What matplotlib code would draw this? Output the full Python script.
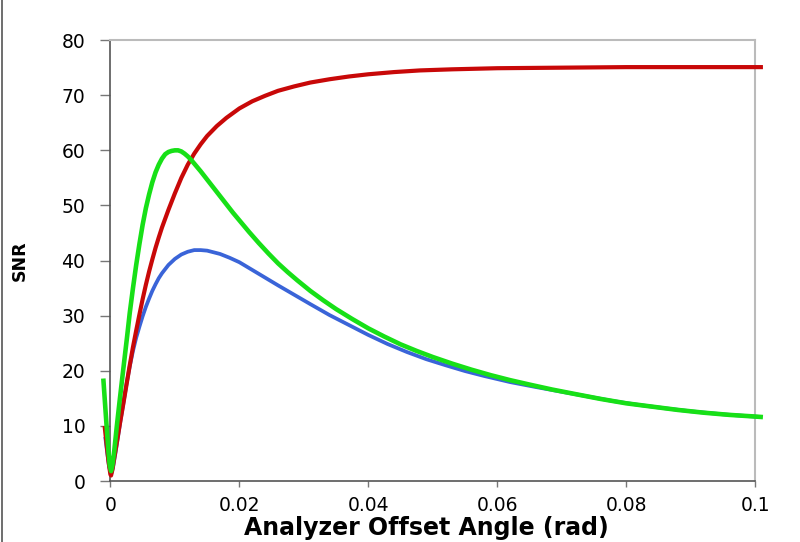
import matplotlib.pyplot as plt
from matplotlib.lines import Line2D

# values
angle_red = [-0.0009, -0.0006, -0.0003, 0.0, 0.0001, 0.0003, 0.0006, 0.0010, 0.0015,
             0.0020, 0.0025, 0.0030, 0.0035, 0.0040, 0.0045, 0.0050, 0.0055, 0.0060,
             0.0065, 0.0070, 0.0075, 0.0080, 0.0090, 0.0100, 0.0110, 0.0120, 0.0130,
             0.0140, 0.0150, 0.0165, 0.0180, 0.0200, 0.0220, 0.0240, 0.0260, 0.0285,
             0.0310, 0.0340, 0.0370, 0.0400, 0.0440, 0.0480, 0.0530, 0.0600, 0.0700,
             0.0800, 0.0900, 0.1012]
snr_red = [10.0, 6.8, 3.6, 1.2, 1.0, 2.0, 4.2, 7.0, 10.6,
           14.0, 17.5, 21.0, 24.3, 27.3, 30.2, 33.0, 35.6, 38.0,
           40.2, 42.3, 44.2, 46.0, 49.2, 52.2, 55.0, 57.4, 59.4,
           61.1, 62.6, 64.4, 65.9, 67.6, 68.9, 69.9, 70.8, 71.6,
           72.3, 72.9, 73.4, 73.8, 74.2, 74.5, 74.7, 74.9, 75.0,
           75.1, 75.1, 75.1]

angle_green = [-0.0011, -0.0008, -0.0005, -0.0003, -0.0001, 0.0001, 0.0003, 0.0006, 0.0010,
               0.0014, 0.0018, 0.0022, 0.0026, 0.0030, 0.0035, 0.0040, 0.0045, 0.0050,
               0.0055, 0.0060, 0.0065, 0.0070, 0.0075, 0.0080, 0.0085, 0.0090, 0.0095,
               0.0100, 0.0105, 0.0110, 0.0115, 0.0120, 0.0125, 0.0130, 0.0140, 0.0150,
               0.0160, 0.0170, 0.0180, 0.0190, 0.0200, 0.0215, 0.0230, 0.0245, 0.0260,
               0.0275, 0.0290, 0.0310, 0.0330, 0.0350, 0.0375, 0.0400, 0.0425, 0.0450,
               0.0475, 0.0500, 0.0530, 0.0560, 0.0590, 0.0620, 0.0650, 0.0685, 0.0720,
               0.0760, 0.0800, 0.0840, 0.0880, 0.0920, 0.0960, 0.1000, 0.1012]
snr_green = [18.6, 13.5, 8.5, 5.3, 2.8, 1.8, 2.8, 5.5, 10.0,
             14.2, 18.3, 22.3, 26.3, 30.5, 35.0, 39.2, 43.0, 46.5,
             49.5, 52.0, 54.2, 56.0, 57.4, 58.5, 59.3, 59.7, 59.9,
             60.0, 60.0, 59.8, 59.4, 58.9, 58.3, 57.6, 56.2, 54.7,
             53.2, 51.7, 50.2, 48.7, 47.3, 45.2, 43.2, 41.3, 39.5,
             37.9, 36.4, 34.5, 32.8, 31.2, 29.4, 27.7, 26.2, 24.8,
             23.6, 22.5, 21.3, 20.2, 19.2, 18.3, 17.5, 16.6, 15.8,
             14.9, 14.1, 13.5, 12.9, 12.4, 12.0, 11.7, 11.6]

angle_blue = [-0.0008, -0.0005, -0.0002, 0.0001, 0.0004, 0.0008, 0.0012, 0.0016, 0.0020,
              0.0025, 0.0030, 0.0035, 0.0040, 0.0045, 0.0050, 0.0055, 0.0060, 0.0065,
              0.0070, 0.0075, 0.0080, 0.0090, 0.0100, 0.0110, 0.0120, 0.0130, 0.0140,
              0.0150, 0.0160, 0.0170, 0.0185, 0.0200, 0.0220, 0.0240, 0.0260, 0.0285,
              0.0310, 0.0340, 0.0370, 0.0400, 0.0430, 0.0460, 0.0490, 0.0520, 0.0550,
              0.0580, 0.0620, 0.0660, 0.0700, 0.0740, 0.0780, 0.0820, 0.0860, 0.0900,
              0.0950, 0.1010]
snr_blue = [8.0, 5.2, 2.6, 1.2, 2.4, 5.2, 8.2, 11.2, 14.0,
            17.6, 20.8, 23.6, 26.0, 28.0, 29.9, 31.6, 33.1, 34.5,
            35.7, 36.8, 37.7, 39.2, 40.3, 41.1, 41.6, 41.9, 41.9,
            41.8, 41.5, 41.2, 40.5, 39.7, 38.3, 36.9, 35.5, 33.8,
            32.1, 30.1, 28.3, 26.5, 24.85, 23.4, 22.1, 21.0, 19.95,
            19.05, 17.95, 17.05, 16.2, 15.35, 14.5, 13.8, 13.2, 12.65,
            12.1, 11.6]

x_ticks = [0, 0.02, 0.04, 0.06, 0.08, 0.1]
x_tick_labels = ["0", "0.02", "0.04", "0.06", "0.08", "0.1"]
y_ticks = [0, 10, 20, 30, 40, 50, 60, 70, 80]

fig = plt.figure(figsize=(8, 5.42), dpi=100)
ax = fig.add_axes([0.138, 0.1125, 0.806, 0.8135])

line_kw = dict(clip_on=False, solid_joinstyle="round", solid_capstyle="butt")
ax.plot(angle_blue, snr_blue, color="#3a64d8", lw=2.7, zorder=3, **line_kw)
ax.plot(angle_red, snr_red, color="#c80808", lw=3.0, zorder=4, **line_kw)
ax.plot(angle_green, snr_green, color="#17e017", lw=3.3, zorder=5, **line_kw)

ax.set_xlim(0, 0.1)
ax.set_ylim(0, 80)
ax.set_xticks(x_ticks)
ax.set_xticklabels(x_tick_labels)
ax.set_yticks(y_ticks)

for side in ["left", "bottom"]:
    ax.spines[side].set_color("#555555")
    ax.spines[side].set_linewidth(1.2)
for side in ["top", "right"]:
    ax.spines[side].set_color("#bbbbbb")
    ax.spines[side].set_linewidth(1.5)

ax.tick_params(axis="y", direction="out", length=7, width=1, color="#777777",
               pad=11, labelsize=13.5)
ax.tick_params(axis="x", direction="out", length=4.5, width=1, color="#777777",
               pad=6, labelsize=13.5)

ax.set_xlabel("Analyzer Offset Angle (rad)", fontsize=17, fontweight="bold")
ax.xaxis.set_label_coords(0.49, -0.079)
ax.set_ylabel("SNR", fontsize=12.5, fontweight="bold")
ax.yaxis.set_label_coords(-0.127, 0.5)

# thin border line at the left edge of the picture
fig.add_artist(Line2D([0.002, 0.002], [0, 1], transform=fig.transFigure,
                      color="#555555", lw=1.2))

fig.savefig("out.png", dpi=100)
